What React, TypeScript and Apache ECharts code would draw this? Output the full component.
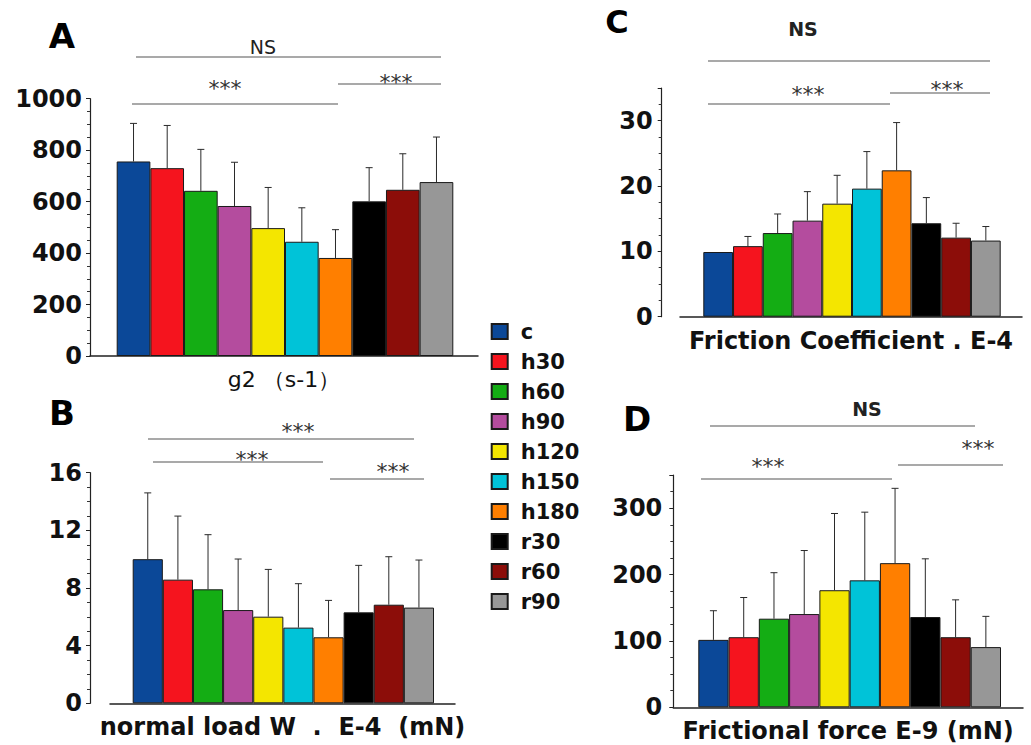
import React, { useEffect, useRef } from "react";
import * as echarts from "echarts";

// ---- data ----
const GROUPS = ["c", "h30", "h60", "h90", "h120", "h150", "h180", "r30", "r60", "r90"];
const COLORS = ["#0b4898", "#f5141e", "#14ad14", "#b44c9e", "#f4e600", "#00c3d8", "#ff7f00", "#000000", "#8c0d09", "#979797"];

// A: g2 (s-1)
const G2_MEAN = [756, 730, 642, 583, 497, 444, 381, 601, 646, 676];
const G2_SD = [148, 166, 161, 170, 158, 132, 110, 131, 140, 175];
// B: normal load W . E-4 (mN)
const LOAD_MEAN = [10.0, 8.58, 7.91, 6.47, 6.01, 5.25, 4.58, 6.31, 6.84, 6.64];
const LOAD_SD = [4.6, 4.41, 3.79, 3.54, 3.28, 3.05, 2.56, 3.26, 3.33, 3.3];
// C: Friction Coefficient . E-4
const FC_MEAN = [9.9, 10.8, 12.8, 14.7, 17.3, 19.6, 22.4, 14.3, 12.1, 11.65];
const FC_SD = [0, 1.48, 2.92, 4.44, 4.34, 5.67, 7.31, 3.93, 2.2, 2.15];
// D: Frictional force E-9 (mN)
const FF_MEAN = [101.6, 105.6, 133.5, 140.5, 176.4, 191.3, 217.2, 136.0, 105.6, 90.7];
const FF_SD = [43.9, 59.8, 69.3, 95.7, 115.6, 102.7, 112.7, 87.7, 56.3, 46.3];

// ---- layout ----
const W = 1031;
const H = 745;
const PANELS = [
  { letter: "A", mean: G2_MEAN, sd: G2_SD, name: "g2 （s-1）", bold: false, nameSize: 22, yMax: 1000, yInt: 200,
    axisL: 90, axisR: 478, barsL: 116.7, barsR: 453.3, top: 98.7, base: 356, yAxisX: 90, labelMargin: 8, showMax: true, nameGap: 12 },
  { letter: "B", mean: LOAD_MEAN, sd: LOAD_SD, name: "normal load W  .  E-4  (mN)", bold: true, nameSize: 24, yMax: 16, yInt: 4,
    axisL: 110, axisR: 455, barsL: 132.7, barsR: 434, top: 472.7, base: 703.3, yAxisX: 90, labelMargin: 8, showMax: true, nameGap: 12 },
  { letter: "C", mean: FC_MEAN, sd: FC_SD, name: "Friction Coefficient . E-4", bold: true, nameSize: 24, yMax: 35, yInt: 10,
    axisL: 680, axisR: 1022, barsL: 703.3, barsR: 1000.7, top: 88, base: 316.7, yAxisX: 661.7, labelMargin: 9, showMax: false, nameGap: 12 },
  { letter: "D", mean: FF_MEAN, sd: FF_SD, name: "Frictional force E-9 (mN)", bold: true, nameSize: 24, yMax: 350, yInt: 100,
    axisL: 673.3, axisR: 1023, barsL: 698.3, barsR: 1001, top: 475, base: 707.3, yAxisX: 673.3, labelMargin: 11, showMax: false, nameGap: 12 },
];

const LETTERS = [
  { t: "A", x: 62, y: 36, size: 34 },
  { t: "B", x: 62, y: 413, size: 34 },
  { t: "C", x: 617, y: 22, size: 32 },
  { t: "D", x: 637, y: 419, size: 34 },
];

// significance annotations: text, text center, line y, line x range
const ANNOT = [
  { t: "NS", bold: false, x: 263, y: 47, ly: 57, x1: 136, x2: 441 },
  { t: "***", x: 225, y: 82, ly: 104, x1: 132, x2: 338 },
  { t: "***", x: 396, y: 76, ly: 84, x1: 338, x2: 441 },
  { t: "***", x: 298, y: 425, ly: 439, x1: 148, x2: 414 },
  { t: "***", x: 252, y: 453, ly: 462, x1: 153, x2: 323 },
  { t: "***", x: 393, y: 465, ly: 479, x1: 330, x2: 424 },
  { t: "NS", bold: true, x: 803, y: 29, ly: 61, x1: 708, x2: 990 },
  { t: "***", x: 808, y: 88, ly: 104, x1: 708, x2: 890 },
  { t: "***", x: 947, y: 83, ly: 93, x1: 890, x2: 990 },
  { t: "NS", bold: true, x: 867, y: 409, ly: 426, x1: 710, x2: 975 },
  { t: "***", x: 978, y: 442, ly: 465, x1: 898, x2: 1003 },
  { t: "***", x: 768, y: 460, ly: 479, x1: 701, x2: 892 },
];

const FONT = "'DejaVu Sans', sans-serif";

function buildOption() {
  const grids: any[] = [];
  const xAxes: any[] = [];
  const yAxes: any[] = [];
  const series: any[] = [];

  PANELS.forEach((p, gi) => {
    const unit = (p.barsR - p.barsL) / GROUPS.length;
    const xMin = (p.axisL - p.barsL) / unit - 0.5;
    const xMax = (p.axisR - p.barsL) / unit - 0.5;
    grids.push({ left: p.axisL, right: W - p.axisR, top: p.top, bottom: H - p.base, containLabel: false });
    xAxes.push({
      type: "value", gridIndex: gi, min: xMin, max: xMax,
      axisLine: { show: true, onZero: false, lineStyle: { color: "#222", width: 1.5 } },
      axisTick: { show: false }, axisLabel: { show: false }, splitLine: { show: false },
      name: p.name, nameLocation: "middle", nameGap: p.nameGap,
      nameTextStyle: { fontFamily: FONT, fontSize: p.nameSize, fontWeight: p.bold ? "bold" : "normal", color: "#111" },
    });
    yAxes.push({
      type: "value", gridIndex: gi, min: 0, max: p.yMax, interval: p.yInt,
      offset: p.axisL - p.yAxisX,
      axisLine: { show: true, onZero: false, lineStyle: { color: "#222", width: 1.2 } },
      axisTick: { show: true, length: 4, lineStyle: { color: "#222", width: 1 } },
      minorTick: { show: true, splitNumber: 4, length: 3, lineStyle: { color: "#333", width: 1 } },
      splitLine: { show: false },
      axisLabel: {
        margin: p.labelMargin, fontFamily: FONT, fontSize: 24, fontWeight: "bold", color: "#111",
        showMaxLabel: p.showMax, formatter: (v: number) => String(v),
      },
    });
    GROUPS.forEach((g, i) => {
      series.push({
        type: "bar", name: g, xAxisIndex: gi, yAxisIndex: gi,
        data: [[i, p.mean[i]]],
        barWidth: unit, barGap: "-100%",
        itemStyle: { color: COLORS[i], borderColor: "#1a1a1a", borderWidth: 1 },
        emphasis: { disabled: true },
      });
    });
    series.push({
      type: "custom", name: "err" + p.letter, xAxisIndex: gi, yAxisIndex: gi, z: 5, silent: true,
      data: p.mean.map((m, i) => [i, m, m + p.sd[i]]),
      renderItem: (_params: any, api: any) => {
        const x = api.value(0);
        const m = api.value(1);
        const e = api.value(2);
        if (e <= m) return null;
        const p1 = api.coord([x, m]);
        const p2 = api.coord([x, e]);
        const st = { stroke: "#2a2a2a", lineWidth: 1 };
        return {
          type: "group",
          children: [
            { type: "line", shape: { x1: p1[0], y1: p1[1], x2: p2[0], y2: p2[1] }, style: st },
            { type: "line", shape: { x1: p2[0] - 3.5, y1: p2[1], x2: p2[0] + 3.5, y2: p2[1] }, style: st },
          ],
        };
      },
    });
  });

  const graphic: any[] = [];
  LETTERS.forEach((l) => {
    graphic.push({
      type: "text", x: l.x, y: l.y,
      style: { text: l.t, fontFamily: FONT, fontSize: l.size, fontWeight: "bold", fill: "#000", align: "center", verticalAlign: "middle" },
    });
  });
  ANNOT.forEach((a) => {
    const isStar = a.t === "***";
    graphic.push({
      type: "text", x: a.x, y: isStar ? a.y + 6 : a.y,
      style: {
        text: a.t, fontFamily: FONT, fontSize: isStar ? 22 : 19,
        fontWeight: a.bold ? "bold" : "normal", fill: isStar ? "#333" : "#222",
        align: "center", verticalAlign: "middle",
      },
    });
    graphic.push({
      type: "line", shape: { x1: a.x1, y1: a.ly, x2: a.x2, y2: a.ly },
      style: { stroke: "#555", lineWidth: 1.2 },
    });
  });

  return {
    animation: false,
    backgroundColor: "#ffffff",
    grid: grids,
    xAxis: xAxes,
    yAxis: yAxes,
    legend: {
      data: GROUPS,
      orient: "vertical",
      left: 490.7, top: 321,
      padding: 0,
      itemWidth: 16, itemHeight: 15, itemGap: 9,
      icon: "rect",
      selectedMode: false,
      textStyle: { fontFamily: FONT, fontSize: 21, fontWeight: "bold", color: "#111", lineHeight: 15, padding: [0, 0, 0, 8] },
    },
    series,
    graphic,
  };
}

export default function App() {
  const ref = useRef<HTMLDivElement>(null);
  useEffect(() => {
    if (!ref.current) return;
    const chart = echarts.init(ref.current, undefined, { renderer: "svg" });
    chart.setOption(buildOption() as any);
    return () => chart.dispose();
  }, []);
  return (
    <div
      ref={ref}
      style={{ position: "fixed", left: 0, top: 0, width: W, height: H, background: "#fff" }}
    />
  );
}
